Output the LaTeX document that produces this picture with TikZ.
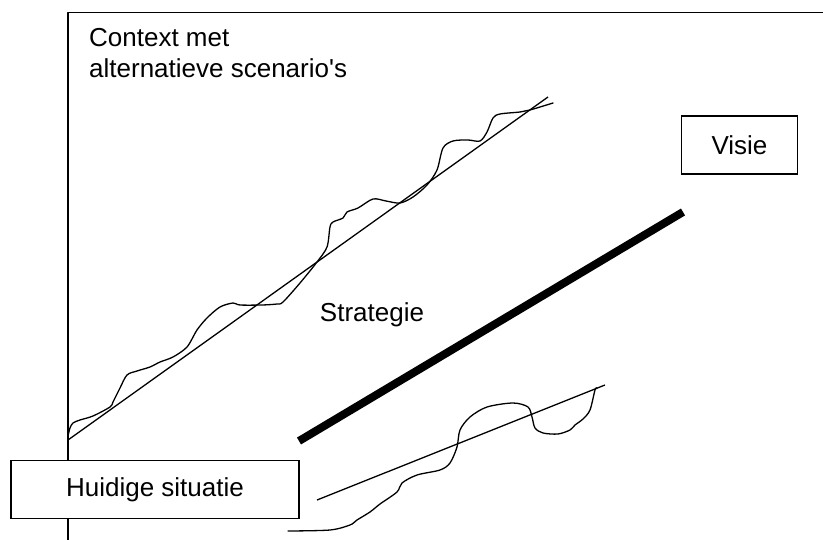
\documentclass[tikz,border=0pt]{standalone}
\usepackage{fontspec}
\setmainfont{Liberation Sans}
\begin{document}
\begin{tikzpicture}[x=1pt,y=-1pt,
  lbl/.style={font=\fontsize{26}{31}\selectfont, inner sep=0pt},
  boxnode/.style={draw, line width=1.3pt, fill=white, inner sep=0pt, font=\fontsize{26}{31}\selectfont},
  thin/.style={line width=1.3pt, line join=round},
  wavy/.style={line width=1.3pt, line join=round, line cap=round}]
\useasboundingbox (0,0) rectangle (823,540);
% frame
\coordinate (ftop) at (68,12.5);
\coordinate (fright) at (823,12.5);
\coordinate (fbot) at (68,540);
\draw[thin] (fright) -- (ftop) -- (fbot);
% context text
\node[lbl, anchor=base west, align=left] (ctx) at (89,78) {Context met\\alternatieve scenario\textquotesingle s};
% upper straight line and wavy line
\coordinate (u1) at (68,440);
\coordinate (u2) at (548,97);
\draw[thin] (u1) -- (u2);
\draw[wavy] plot[smooth, tension=0.5] coordinates {
 (68,436) (70,428) (73,423) (80,420) (93,416) (110,407) (113,402) (120,388) (127,375) (137,371)
 (150,367) (160,362) (173,357) (187,347) (197,330) (207,318) (220,307) (233,303) (240,305)
 (262,305) (277,304) (283,302) (300,283) (317,262) (327,247) (330,227) (333,222) (343,218) (347,212)
 (358,208) (373,199) (386,201) (400,203) (413,197) (427,185) (437,170) (443,148) (453,141)
 (468,140) (480,141) (487,132) (493,118) (500,114) (520,112) (530,110) (553,103)};
% thick strategy line
\coordinate (s1) at (299,441);
\coordinate (s2) at (683,212);
\draw[line width=8pt] (s1) -- (s2);
\node[lbl] (strat) at (372,315) {Strategie};
% lower straight and wavy
\coordinate (l1) at (317,500);
\coordinate (l2) at (605,385);
\draw[thin] (l1) -- (l2);
\draw[wavy] plot[smooth, tension=0.5] coordinates {
 (288,531) (330,530) (350,525) (357,520) (370,512) (380,504) (397,492) (402,483) (417,475)
 (440,470) (450,463) (457,447) (460,430) (470,417) (487,407) (513,403) (528,407) (532,417)
 (535,428) (543,433) (558,434) (570,430) (575,425) (583,419) (590,410) (595,390) (597,388)};
% boxes
\node[boxnode, minimum width=115.5pt, minimum height=58pt] (visie) at (739.5,145) {Visie};
\node[boxnode, minimum width=288pt, minimum height=57.5pt] (huidig) at (155,489.5) {Huidige situatie};
\end{tikzpicture}
\end{document}
